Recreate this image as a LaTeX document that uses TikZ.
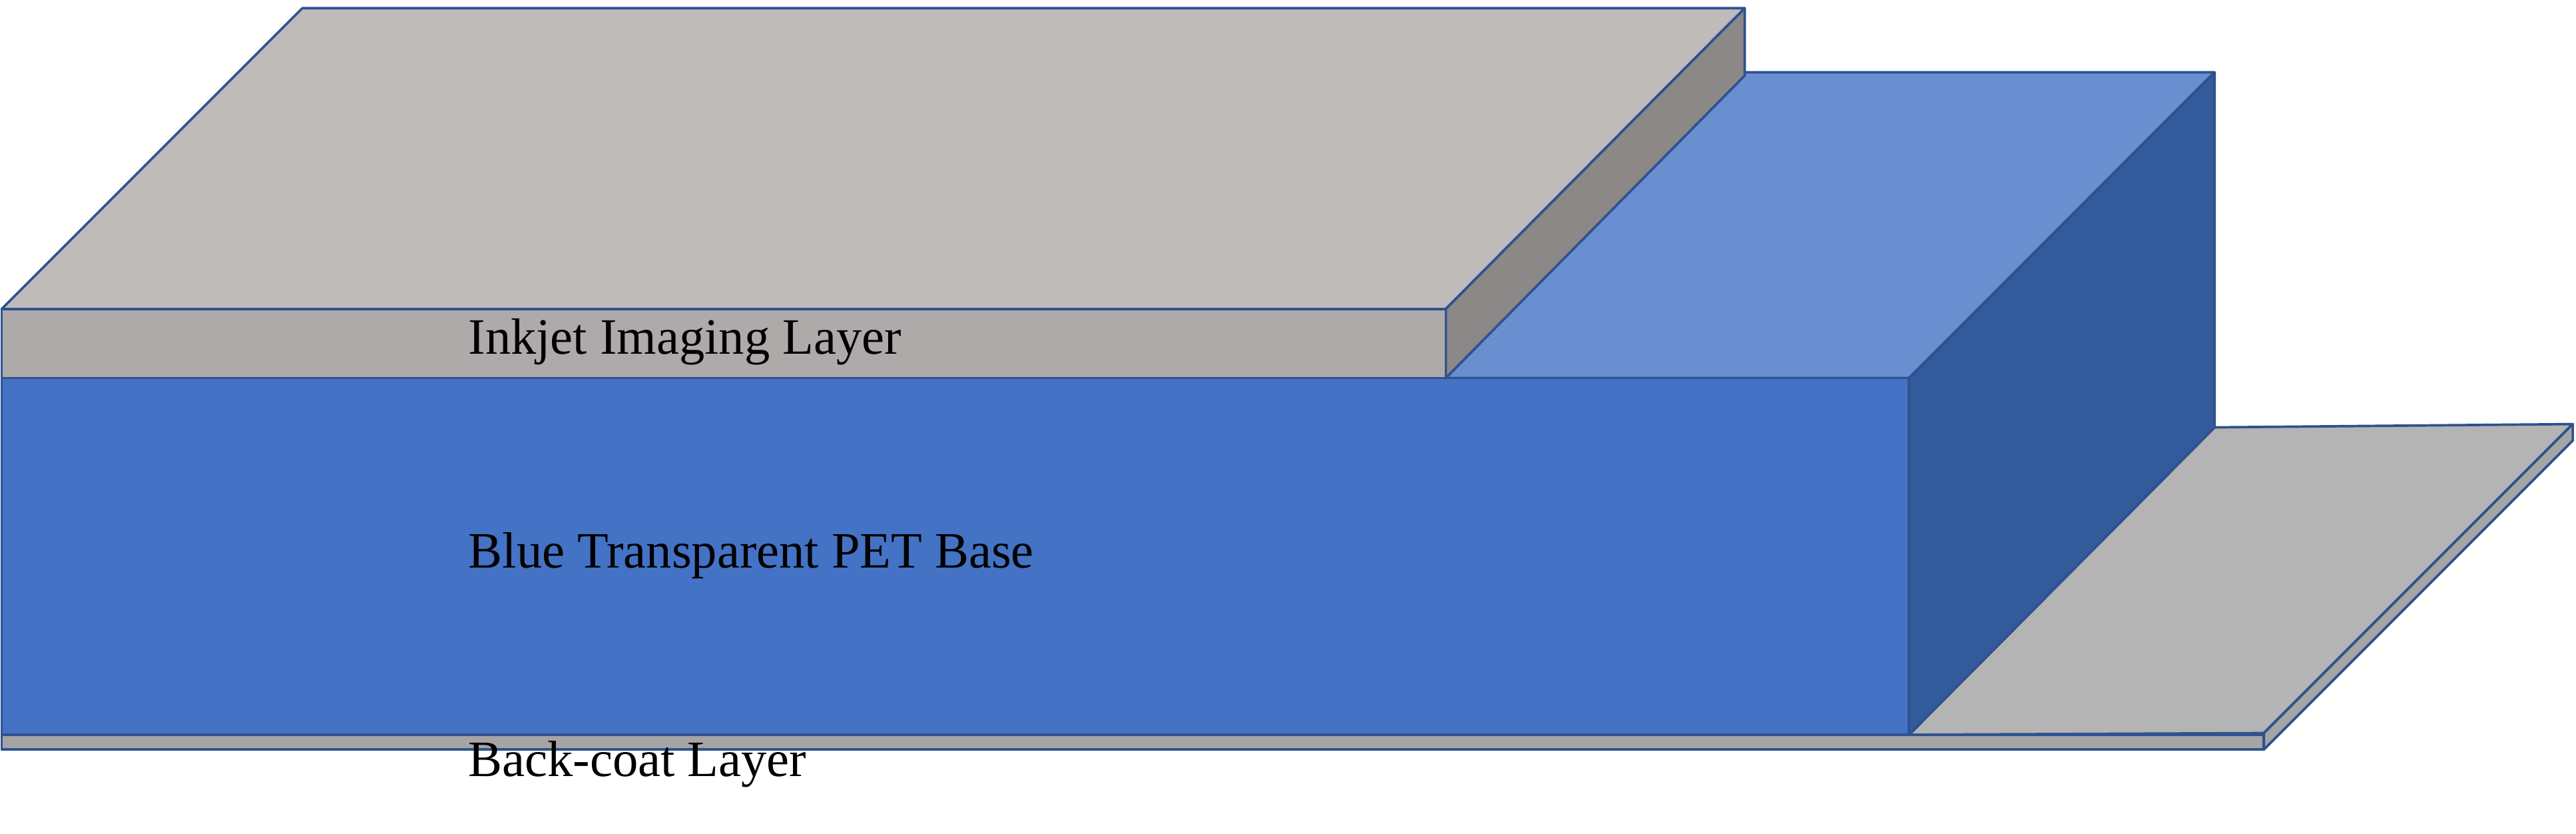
\documentclass[tikz,border=0pt]{standalone}
\usepackage{fontspec}
\setmainfont{Liberation Serif}
\definecolor{edge}{HTML}{2F528F}
\definecolor{gtop}{HTML}{BFBBBA}
\definecolor{gfront}{HTML}{AEAAA9}
\definecolor{gside}{HTML}{8C8887}
\definecolor{bfront}{HTML}{4472C4}
\definecolor{btop}{HTML}{698FD0}
\definecolor{bside}{HTML}{335A9B}
\definecolor{ctop}{HTML}{B4B4B4}
\definecolor{cfront}{HTML}{A5A5A5}
\tikzset{face/.style={draw=edge,line width=1.5pt,line join=round},
lbl/.style={anchor=west,font=\fontsize{31}{36}\selectfont,inner sep=0pt}}
\begin{document}
\begin{tikzpicture}[x=1pt,y=-1pt]
\useasboundingbox (0,0) rectangle (1568,507);
% back-coat
\fill[face,fill=ctop] (1162,447) -- (1348,260) -- (1566,258) -- (1378,446) -- cycle;
\fill[face,fill=cfront] (1378,446) -- (1566,258) -- (1566,268) -- (1378,456) -- cycle;
\fill[face,fill=cfront] (1,447) rectangle (1378,456);
% blue base
\fill[face,fill=btop] (880,230) -- (1062,44) -- (1348,44) -- (1162,230) -- cycle;
\fill[face,fill=bside] (1162,230) -- (1348,44) -- (1348,260) -- (1162,447) -- cycle;
\fill[face,fill=bfront] (1,230) rectangle (1162,447);
% inkjet
\fill[face,fill=gtop] (1,188) -- (184,5) -- (1062,5) -- (880,188) -- cycle;
\fill[face,fill=gside] (880,188) -- (1062,5) -- (1062,46) -- (880,230) -- cycle;
\fill[face,fill=gfront] (1,188) rectangle (880,230);
\node[lbl] (ink) at (285,208) {Inkjet Imaging Layer};
\node[lbl] (pet) at (285,338) {Blue Transparent PET Base};
\node[lbl] (bc) at (285,465) {Back-coat Layer};
\end{tikzpicture}
\end{document}
